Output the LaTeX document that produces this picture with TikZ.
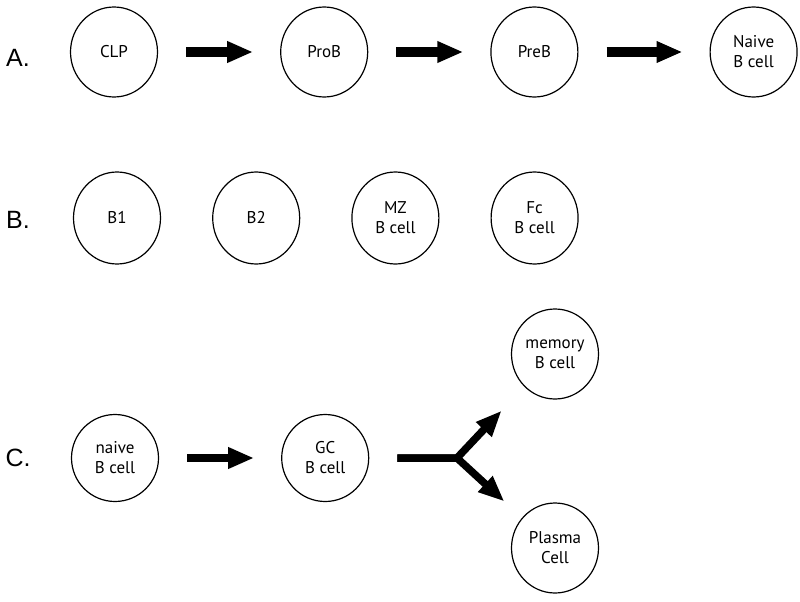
\documentclass[tikz,border=0pt]{standalone}
\usepackage{fontspec}
\setsansfont{PT Sans}
\newfontfamily\tagfont{Liberation Sans}
\usetikzlibrary{shapes.geometric, arrows.meta, positioning}

\begin{document}
\begin{tikzpicture}[
    x=1pt, y=-1pt,
    node distance=122pt,
    cell/.style={ellipse, draw, line width=1.2pt, minimum width=87pt, minimum height=90pt, inner sep=0pt, align=center, font=\sffamily\fontsize{17}{20}\selectfont},
    tag/.style={font=\tagfont\fontsize{25}{30}\selectfont},
    fat/.style={-{Triangle[length=26pt, width=20pt]}, line width=7.5pt, line join=miter, shorten <=28pt, shorten >=27pt}
]
\useasboundingbox (0,0) rectangle (800,602);

% A. development
\node[tag] (taga) at (18,58) {A.};
\node[cell] (clp) at (114,52) {CLP};
\node[cell, right=of clp] (prob) {ProB};
\node[cell, right=of prob] (preb) {PreB};
\node[cell, right=131pt of preb] (naive) {Naive\\B cell};

\draw[fat, line width=10pt] (clp) -- (prob);
\draw[fat, line width=10pt] (prob) -- (preb);
\draw[fat, line width=10pt] (preb) -- (naive);

% B. subsets
\node[tag] (tagb) at (18,220) {B.};
\node[cell, minimum height=92pt] (bone) at (117,218) {B1};
\node[cell, minimum height=92pt, right=51pt of bone] (btwo) {B2};
\node[cell, minimum height=92pt, right=51pt of btwo] (mz) {MZ\\B cell};
\node[cell, minimum height=92pt, right=51pt of mz] (fc) {Fc\\B cell};

% C. activation
\node[tag] (tagc) at (18,458) {C.};
\node[cell, minimum height=87pt] (naivec) at (115,458) {naive\\B cell};
\node[cell, minimum height=87pt, right=of naivec] (gc) {GC\\B cell};
\coordinate (fork) at (457,458);
\node[cell] (memory) at (555,354) {memory\\B cell};
\node[cell] (plasma) at (555,548) {Plasma\\Cell};

\draw[fat] (naivec) -- (gc);
\draw[fat, shorten >=33pt] (gc) -- (fork) -- (memory);
\draw[fat, shorten >=24pt] (gc) -- (fork) -- (plasma);

\end{tikzpicture}
\end{document}
